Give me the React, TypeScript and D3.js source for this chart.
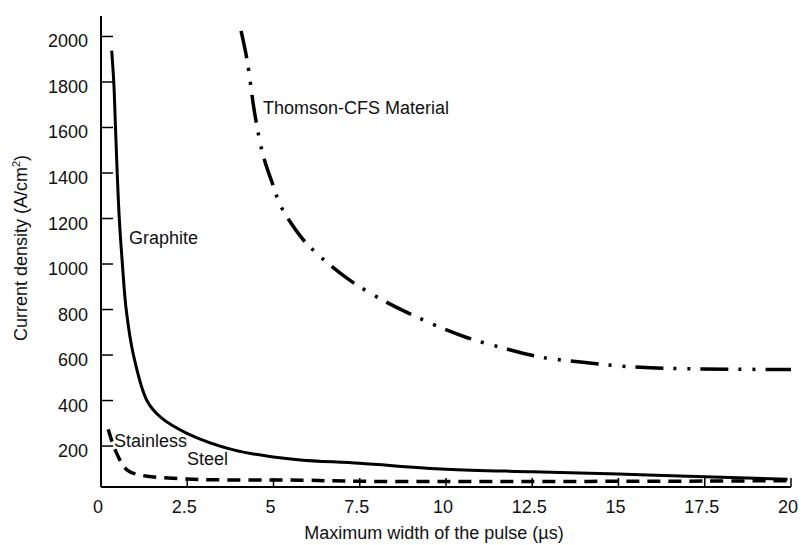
import React from 'react';
import * as d3 from 'd3';

// Pulse width (µs) vs current density (A/cm²)
const graphiteX = [0.31, 0.37, 0.42, 0.47, 0.53, 0.62, 0.73, 0.94, 1.33, 1.71, 2.49, 3.84, 5.0, 5.78, 7.5, 10, 12.5, 15, 17.5, 19.9];
const graphiteY = [1938, 1800, 1600, 1400, 1200, 1000, 800, 600, 400, 329, 256, 183, 152, 139, 124, 98, 87, 77, 65, 54];

const steelX = [0.21, 0.41, 0.75, 1.13, 2.49, 5.8, 7.5, 10, 12.5, 15, 17.5, 20];
const steelY = [274, 183, 95, 73, 55, 50, 45, 44, 44, 45, 46, 48];

const thomsonX = [4.06, 4.23, 4.47, 4.71, 4.95, 5.22, 5.83, 6.36, 7.23, 8.19, 8.82, 9.89, 10.62, 11.68, 12.74, 13.9, 15.0, 16.1, 17.4, 20];
const thomsonY = [2025, 1900, 1648, 1472, 1362, 1252, 1113, 1032, 927, 839, 791, 718, 676, 630, 591, 569, 552, 543, 539, 536];

const xTicks = [0, 2.5, 5, 7.5, 10, 12.5, 15, 17.5, 20];
const yTicks = [200, 400, 600, 800, 1000, 1200, 1400, 1600, 1800, 2000];

const font = '"Liberation Sans", Arial, sans-serif';

const App = () => {
  const x = d3.scaleLinear().domain([0, 20]).range([101, 791]);
  const y = d3.scaleLinear().domain([20, 2090]).range([487, 16]);

  const line = d3.line<[number, number]>()
    .x(d => x(d[0]))
    .y(d => y(d[1]))
    .curve(d3.curveCatmullRom.alpha(0.5));

  const zip = (xs: number[], ys: number[]) => xs.map((v, i) => [v, ys[i]] as [number, number]);

  return (
    <svg width={806} height={545} style={{ position: 'absolute', left: 0, top: 0, background: '#fff' }}
      fontFamily={font} fontSize={18}>
      {/* curves */}
      <path d={line(zip(graphiteX, graphiteY)) || ''} fill="none" stroke="#000" strokeWidth={3} />
      <path d={line(zip(steelX, steelY)) || ''} fill="none" stroke="#000" strokeWidth={3.5}
        strokeDasharray="13,8" />
      <path d={line(zip(thomsonX, thomsonY)) || ''} fill="none" stroke="#000" strokeWidth={3.5}
        strokeDasharray="28,10,3,11,3,10" />

      {/* axes */}
      <line x1={x(0)} x2={x(0)} y1={y(2090)} y2={y(20)} stroke="#000" strokeWidth={2} />
      <line x1={x(0)} x2={x(20)} y1={y(20)} y2={y(20)} stroke="#000" strokeWidth={2} />
      {yTicks.map(t => (
        <g key={'y' + t}>
          <line x1={x(0)} x2={x(0) + 12} y1={y(t)} y2={y(t)} stroke="#000" strokeWidth={1.5} />
          <text x={88} y={y(t) + 11} textAnchor="end" fill="#111">{t}</text>
        </g>
      ))}
      {xTicks.map(t => (
        <g key={'x' + t}>
          <line x1={x(t)} x2={x(t)} y1={y(20)} y2={y(20) - 9} stroke="#000" strokeWidth={1.5} />
          <text x={x(t) - 3} y={513} textAnchor="middle" fill="#111">{t}</text>
        </g>
      ))}

      {/* axis titles */}
      <text x={434} y={539} textAnchor="middle" fill="#111">Maximum width of the pulse (µs)</text>
      <text transform="translate(27,248) rotate(-90)" textAnchor="middle" fill="#111">
        Current density (A/cm<tspan fontSize={11} dy={-7}>2</tspan><tspan dy={7}>)</tspan>
      </text>

      {/* curve labels */}
      <text x={129} y={244} fill="#111">Graphite</text>
      <text x={263} y={114} fill="#111">Thomson-CFS Material</text>
      <text x={114} y={447} fill="#111">Stainless</text>
      <text x={187} y={465} fill="#111">Steel</text>
    </svg>
  );
};

export default App;
